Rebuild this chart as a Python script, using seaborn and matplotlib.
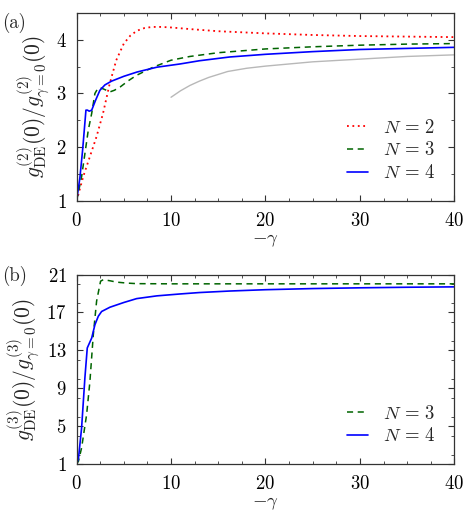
import numpy as np
import matplotlib
matplotlib.use("Agg")
import matplotlib.pyplot as plt
import seaborn as sns
from matplotlib.ticker import MultipleLocator, FixedLocator

sns.set_style("ticks")
plt.rcParams["font.family"] = "serif"
plt.rcParams["font.serif"] = ["cmr10", "DejaVu Serif"]
plt.rcParams["mathtext.fontset"] = "cm"
plt.rcParams["axes.formatter.use_mathtext"] = True
plt.rcParams["axes.unicode_minus"] = False

# panel (a): g2 ratio
x2_N2 = [0, 0.7, 1.4, 2.1, 2.8, 3.5, 4.2, 5.0, 5.7, 6.4, 7.2, 8.0, 9.0, 10, 12, 15, 20, 25, 30, 35, 40]
y2_N2 = [1.0, 1.45, 1.82, 2.19, 2.63, 3.18, 3.62, 3.93, 4.08, 4.17, 4.22, 4.24, 4.24, 4.23, 4.2, 4.16, 4.12, 4.09, 4.07, 4.06, 4.05]
x2_N3 = [0, 0.53, 1.24, 1.6, 1.94, 2.2, 2.47, 2.9, 3.53, 4.0, 4.6, 5.5, 6.36, 8.1, 10, 12, 15, 20, 25, 30, 35, 40]
y2_N3 = [1.0, 1.45, 2.32, 2.63, 3.0, 3.08, 3.11, 3.08, 3.03, 3.06, 3.12, 3.24, 3.34, 3.49, 3.62, 3.69, 3.76, 3.83, 3.87, 3.9, 3.92, 3.93]
x2_N4 = [0, 0.35, 0.64, 0.99, 1.15, 1.34, 1.6, 2.0, 2.47, 3.0, 3.7, 5.0, 6.4, 8.5, 10.95, 13, 16.2, 20, 25, 30, 35, 40]
y2_N4 = [1.0, 1.43, 1.95, 2.69, 2.69, 2.67, 2.69, 2.87, 3.06, 3.16, 3.23, 3.32, 3.40, 3.49, 3.55, 3.61, 3.68, 3.73, 3.78, 3.82, 3.84, 3.86]
x2_ref = [10, 11, 12, 13, 14, 16, 18, 20, 25, 30, 35, 40]
y2_ref = [2.93, 3.05, 3.15, 3.23, 3.3, 3.41, 3.47, 3.51, 3.59, 3.64, 3.69, 3.72]

# panel (b): g3 ratio
x3_N3 = [0, 0.2, 0.53, 1.06, 1.41, 1.77, 2.12, 2.54, 2.83, 3.5, 4.24, 5.3, 6.36, 10, 20, 30, 40]
y3_N3 = [1.0, 1.3, 2.7, 6.2, 9.7, 14.65, 18.2, 20.3, 20.46, 20.35, 20.2, 20.1, 20.04, 20.02, 20.02, 20.02, 20.02]
x3_N4 = [0, 0.2, 0.53, 0.88, 1.13, 1.6, 1.94, 2.3, 2.65, 3.53, 5.0, 6.36, 8.5, 10.95, 13, 16.2, 20, 25, 30, 35, 40]
y3_N4 = [1.0, 1.6, 4.8, 10.1, 13.25, 14.3, 15.7, 16.6, 17.1, 17.55, 18.05, 18.46, 18.75, 18.95, 19.1, 19.26, 19.4, 19.52, 19.6, 19.66, 19.7]

fs = 13.5
fig = plt.figure(figsize=(4.67, 5.19), dpi=100)
ax1 = fig.add_axes([0.164, 0.613, 0.809, 0.362])
ax2 = fig.add_axes([0.164, 0.106, 0.809, 0.365])

sns.lineplot(x=x2_N2, y=y2_N2, ax=ax1, color="red", linestyle=(0, (1, 2)), lw=1.3, label=r"$N\,=\,2$")
sns.lineplot(x=x2_N3, y=y2_N3, ax=ax1, color="#006400", linestyle=(0, (4, 3)), lw=1.1, label=r"$N\,=\,3$")
sns.lineplot(x=x2_N4, y=y2_N4, ax=ax1, color="blue", lw=1.2, label=r"$N\,=\,4$")
sns.lineplot(x=x2_ref, y=y2_ref, ax=ax1, color="#b8b8b8", lw=1.0)

sns.lineplot(x=x3_N3, y=y3_N3, ax=ax2, color="#006400", linestyle=(0, (4, 3)), lw=1.1, label=r"$N\,=\,3$")
sns.lineplot(x=x3_N4, y=y3_N4, ax=ax2, color="blue", lw=1.2, label=r"$N\,=\,4$")

ax1.set_xlim(0, 40)
ax1.set_ylim(1, 4.5)
ax1.yaxis.set_major_locator(FixedLocator([1, 2, 3, 4]))
ax1.yaxis.set_minor_locator(MultipleLocator(0.5))
ax1.set_ylabel(r"$g^{(2)}_{\rm DE}(0)/g^{(2)}_{\gamma=0}(0)$", fontsize=15.5, labelpad=3)

ax2.set_xlim(0, 40)
ax2.set_ylim(1, 21)
ax2.yaxis.set_major_locator(FixedLocator([1, 5, 9, 13, 17, 21]))
ax2.yaxis.set_minor_locator(MultipleLocator(2))
ax2.set_ylabel(r"$g^{(3)}_{\rm DE}(0)/g^{(3)}_{\gamma=0}(0)$", fontsize=15.5, labelpad=3)

for ax in (ax1, ax2):
    ax.xaxis.set_major_locator(MultipleLocator(10))
    ax.xaxis.set_minor_locator(MultipleLocator(2.5))
    ax.set_xlabel(r"$-\gamma$", fontsize=fs, labelpad=1)
    ax.tick_params(which="both", direction="in", top=True, right=True, labelsize=fs, colors="#333333")
    ax.tick_params(which="major", length=4.5, width=0.8, labelcolor="black")
    ax.tick_params(axis="x", which="major", pad=8)
    ax.tick_params(axis="y", which="major", pad=7)
    ax.tick_params(which="minor", length=2.5, width=0.6)
    for sp in ax.spines.values():
        sp.set_color("#333333")
        sp.set_linewidth(0.9)
    ax.legend(loc="lower right", frameon=False, fontsize=fs, handlelength=1.1,
              handletextpad=0.8, labelspacing=0.25, borderaxespad=0.6)

fig.text(0.005, 0.975, "(a)", fontsize=fs, va="top", ha="left")
fig.text(0.005, 0.488, "(b)", fontsize=fs, va="top", ha="left")

fig.savefig("out.png", dpi=100)
